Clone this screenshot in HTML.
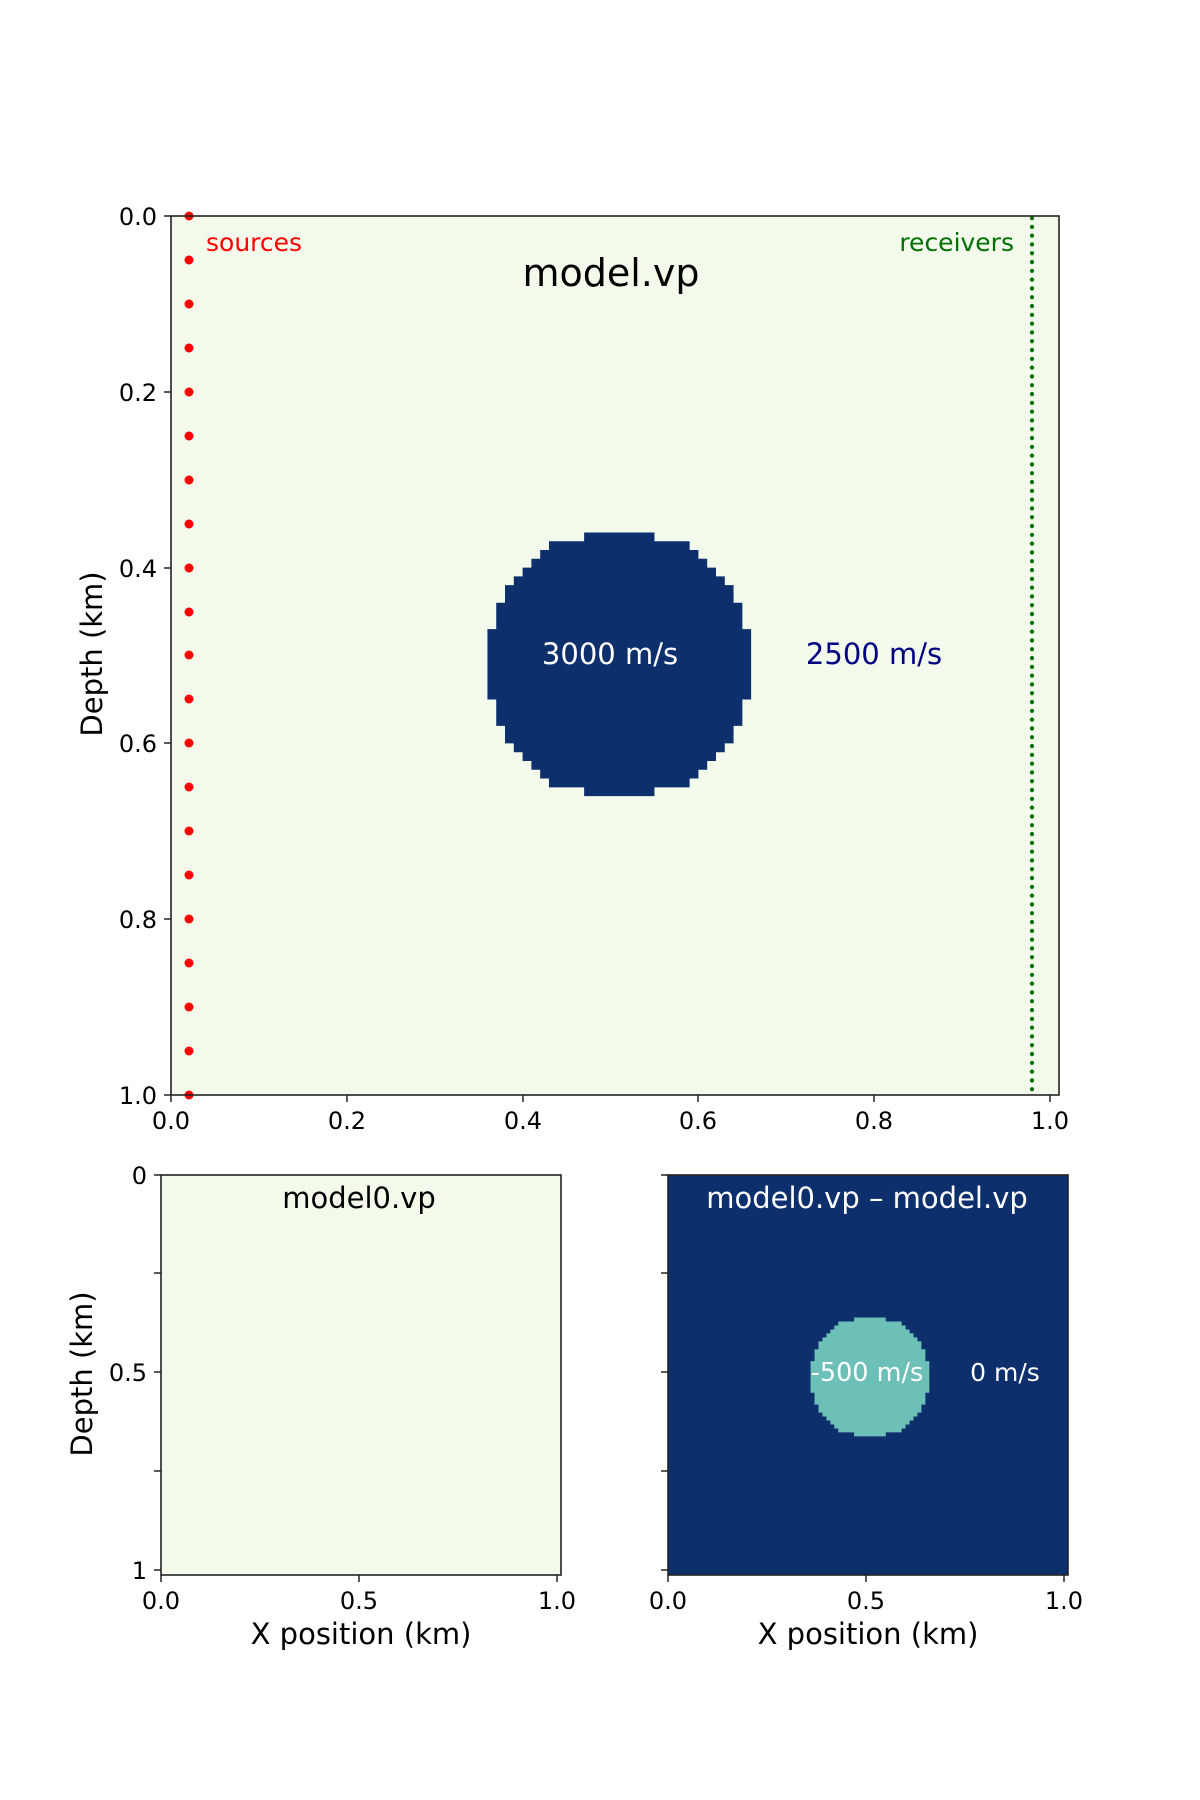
<!DOCTYPE html>
<html><head><meta charset="utf-8"><style>body{margin:0;background:#fff}svg{display:block}text{font-family:"DejaVu Sans","Liberation Sans",sans-serif}</style></head><body>
<svg width="1200" height="1800" viewBox="0 0 1200 1800">
<defs>
<path id="circ" d="M47 36 H55 V37 H59 V38 H60 V39 H61 V40 H62 V41 H63 V42 H64 V44 H65 V47 H66 V55 H65 V58 H64 V60 H63 V61 H62 V62 H61 V63 H60 V64 H59 V65 H55 V66 H47 V65 H43 V64 H42 V63 H41 V62 H40 V61 H39 V60 H38 V58 H37 V55 H36 V47 H37 V44 H38 V42 H39 V41 H40 V40 H41 V39 H42 V38 H43 V37 H47 Z"/>
</defs>
<!-- main -->
<rect x="171" y="216" width="888" height="879" fill="#f3faeb"/>
<g transform="translate(171,216) scale(8.79)"><use href="#circ" fill="#0d2f6b"/></g>
<line x1="1032" y1="218" x2="1032" y2="1095" stroke="#007000" stroke-width="4.2" stroke-dasharray="0.1 8.7" stroke-linecap="round"/>
<g fill="#ff0000">
<circle cx="189" cy="216" r="4.5"/><circle cx="189" cy="260" r="4.5"/><circle cx="189" cy="304" r="4.5"/><circle cx="189" cy="348" r="4.5"/><circle cx="189" cy="392" r="4.5"/><circle cx="189" cy="436" r="4.5"/><circle cx="189" cy="480" r="4.5"/><circle cx="189" cy="524" r="4.5"/><circle cx="189" cy="568" r="4.5"/><circle cx="189" cy="612" r="4.5"/><circle cx="189" cy="655" r="4.5"/><circle cx="189" cy="699" r="4.5"/><circle cx="189" cy="743" r="4.5"/><circle cx="189" cy="787" r="4.5"/><circle cx="189" cy="831" r="4.5"/><circle cx="189" cy="875" r="4.5"/><circle cx="189" cy="919" r="4.5"/><circle cx="189" cy="963" r="4.5"/><circle cx="189" cy="1007" r="4.5"/><circle cx="189" cy="1051" r="4.5"/><circle cx="189" cy="1095" r="4.5"/>
</g>
<rect x="171" y="216" width="888" height="879" fill="none" stroke="#222" stroke-width="1.6"/>
<g stroke="#222" stroke-width="1.5">
<line x1="164" y1="216" x2="171" y2="216"/><line x1="164" y1="392" x2="171" y2="392"/><line x1="164" y1="568" x2="171" y2="568"/><line x1="164" y1="743" x2="171" y2="743"/><line x1="164" y1="919" x2="171" y2="919"/><line x1="164" y1="1095" x2="171" y2="1095"/>
<line x1="171" y1="1095" x2="171" y2="1102"/><line x1="347" y1="1095" x2="347" y2="1102"/><line x1="523" y1="1095" x2="523" y2="1102"/><line x1="698" y1="1095" x2="698" y2="1102"/><line x1="874" y1="1095" x2="874" y2="1102"/><line x1="1050" y1="1095" x2="1050" y2="1102"/>
</g>
<g font-size="24" text-anchor="end" fill="#000">
<text x="157" y="225">0.0</text><text x="157" y="401">0.2</text><text x="157" y="577">0.4</text><text x="157" y="752">0.6</text><text x="157" y="928">0.8</text><text x="157" y="1104">1.0</text>
</g>
<g font-size="24" text-anchor="middle" fill="#000">
<text x="171" y="1129">0.0</text><text x="347" y="1129">0.2</text><text x="523" y="1129">0.4</text><text x="698" y="1129">0.6</text><text x="874" y="1129">0.8</text><text x="1050" y="1129">1.0</text>
</g>
<text x="0" y="0" font-size="29" text-anchor="middle" transform="translate(102,654) rotate(-90)">Depth (km)</text>
<text x="206" y="251" font-size="25" fill="#ff0000">sources</text>
<text x="1014" y="251" font-size="25" fill="#007000" text-anchor="end">receivers</text>
<text x="611" y="286" font-size="38" text-anchor="middle">model.vp</text>
<text x="610" y="664" font-size="29" text-anchor="middle" fill="#fff">3000 m/s</text>
<text x="874" y="664" font-size="29" text-anchor="middle" fill="#000080">2500 m/s</text>

<!-- bottom left -->
<rect x="161" y="1175" width="400" height="400" fill="#f3faeb"/>
<rect x="161" y="1175" width="400" height="400" fill="none" stroke="#222" stroke-width="1.6"/>
<!-- bottom right -->
<rect x="668" y="1175" width="400" height="400" fill="#0d2f6b"/>
<g transform="translate(668,1175) scale(3.96)"><use href="#circ" fill="#6cc0b8"/></g>
<rect x="668" y="1175" width="400" height="400" fill="none" stroke="#222" stroke-width="1.6"/>
<g stroke="#222" stroke-width="1.5">
<line x1="154" y1="1175" x2="161" y2="1175"/><line x1="154" y1="1273" x2="161" y2="1273"/><line x1="154" y1="1372" x2="161" y2="1372"/><line x1="154" y1="1471" x2="161" y2="1471"/><line x1="154" y1="1570" x2="161" y2="1570"/>
<line x1="661" y1="1175" x2="668" y2="1175"/><line x1="661" y1="1273" x2="668" y2="1273"/><line x1="661" y1="1372" x2="668" y2="1372"/><line x1="661" y1="1471" x2="668" y2="1471"/><line x1="661" y1="1570" x2="668" y2="1570"/>
<line x1="161" y1="1575" x2="161" y2="1582"/><line x1="359" y1="1575" x2="359" y2="1582"/><line x1="557" y1="1575" x2="557" y2="1582"/>
<line x1="668" y1="1575" x2="668" y2="1582"/><line x1="866" y1="1575" x2="866" y2="1582"/><line x1="1064" y1="1575" x2="1064" y2="1582"/>
</g>
<g font-size="24" text-anchor="end">
<text x="147" y="1184">0</text><text x="147" y="1381">0.5</text><text x="147" y="1579">1</text>
</g>
<g font-size="24" text-anchor="middle">
<text x="161" y="1609">0.0</text><text x="359" y="1609">0.5</text><text x="557" y="1609">1.0</text>
<text x="668" y="1609">0.0</text><text x="866" y="1609">0.5</text><text x="1064" y="1609">1.0</text>
</g>
<text x="359" y="1208" font-size="29" text-anchor="middle">model0.vp</text>
<text x="867" y="1208" font-size="29" text-anchor="middle" fill="#fff">model0.vp – model.vp</text>
<text x="867" y="1381" font-size="25.5" text-anchor="middle" fill="#fff">-500 m/s</text>
<text x="1005" y="1381" font-size="25" text-anchor="middle" fill="#fff">0 m/s</text>
<text x="361" y="1644" font-size="29" text-anchor="middle">X position (km)</text>
<text x="868" y="1644" font-size="29" text-anchor="middle">X position (km)</text>
<text x="0" y="0" font-size="29" text-anchor="middle" transform="translate(92,1374) rotate(-90)">Depth (km)</text>
</svg>
</body></html>
